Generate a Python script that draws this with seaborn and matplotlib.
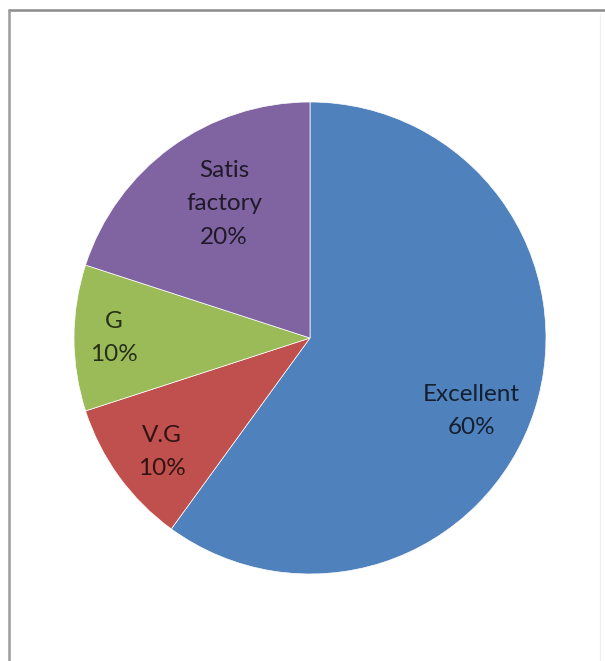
import numpy as np
import matplotlib
matplotlib.use("Agg")
import matplotlib.pyplot as plt
from matplotlib.lines import Line2D
import seaborn as sns

# Rating categories and their shares (percent)
categories = ["Excellent", "V.G", "G", "Satis\nfactory"]
shares = [60, 10, 10, 20]
slice_colors = ["#4F81BD", "#C0504D", "#9BBB59", "#8064A2"]

sns.set_theme(style="white")
plt.rcParams["font.family"] = ["Lato", "DejaVu Sans"]

W, H = 605, 661
fig = plt.figure(figsize=(W / 100, H / 100), dpi=100)
fig.patch.set_facecolor("white")

# pie centre and radius in pixels
cx, cy, r = 310, 338, 236
ax = fig.add_axes([(cx - r) / W, (H - cy - r) / H, 2 * r / W, 2 * r / H])

wedges, _ = ax.pie(
    shares,
    colors=slice_colors,
    startangle=90,
    counterclock=False,
    radius=1.0,
    center=(0, 0),
    wedgeprops=dict(edgecolor="white", linewidth=0.5),
    frame=True,
)
ax.set_xlim(-1, 1)
ax.set_ylim(-1, 1)
ax.axis("off")

# label placement: radial fraction and angular nudge per slice
label_radius = [0.75, 0.79, 0.83, 0.675]
label_nudge = [-6.3, 1.6, 0.1, -3.3]
for w, name, val, rad, nd in zip(wedges, categories, shares, label_radius, label_nudge):
    mid = np.deg2rad((w.theta1 + w.theta2) / 2 + nd)
    ax.text(rad * np.cos(mid), rad * np.sin(mid), f"{name}\n{val}%",
            ha="center", va="center", fontsize=17.5, color="black", alpha=0.75,
            linespacing=1.72, multialignment="center")

# chart frame
fig.add_artist(Line2D([9 / W, 1], [1 - 10 / H, 1 - 10 / H], color="#8a8a8a", lw=1.8,
                      transform=fig.transFigure))
fig.add_artist(Line2D([9 / W, 9 / W], [0, 1 - 10 / H], color="#9a9a9a", lw=1.8,
                      transform=fig.transFigure))
fig.add_artist(Line2D([600 / W, 600 / W], [0, 1 - 14 / H], color="#f0f0f0", lw=1.0,
                      transform=fig.transFigure))

fig.savefig("out.png", dpi=100, facecolor="white")
